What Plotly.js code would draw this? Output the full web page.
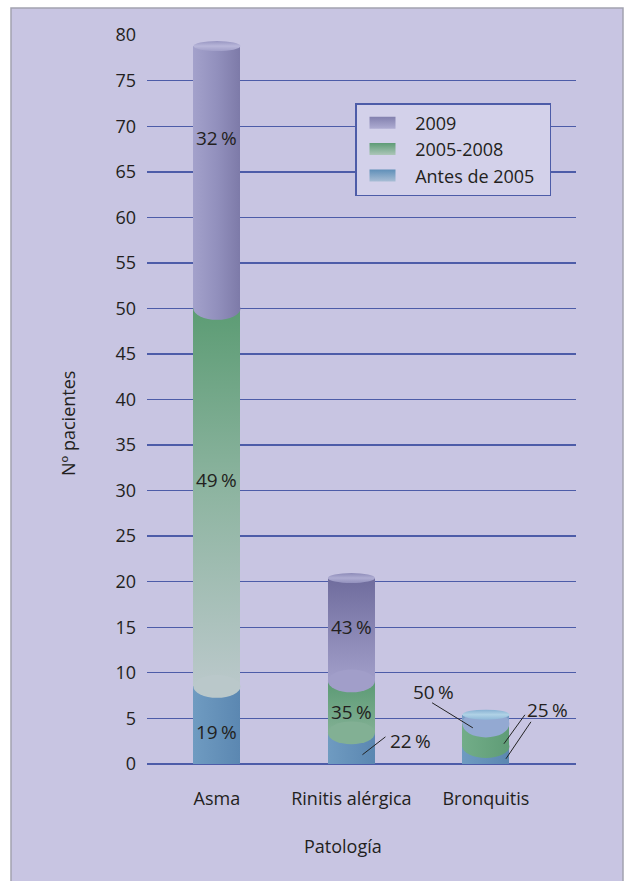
<!DOCTYPE html>
<html><head><meta charset="utf-8">
<script src="https://cdn.plot.ly/plotly-3.0.1.min.js"></script>
<style>html,body{margin:0;padding:0;background:#fff}#chart{width:625px;height:881px}</style>
</head><body><div id="chart"></div>
<script>
// ---- data ----
const categories = ['Asma', 'Rinitis alérgica', 'Bronquitis'];
const seriesNames = ['Antes de 2005', '2005-2008', '2009'];
const antes2005 = [8.5, 3.4, 1.9];
const p20052008 = [41.5, 5.7, 2.5];
const p2009 = [28.8, 11.3, 1.0];
const pctAntes = ['19\u2009%', '22\u2009%', '25\u2009%'];
const pctMid = ['49\u2009%', '35\u2009%', '25\u2009%'];
const pct2009 = ['32\u2009%', '43\u2009%', '50\u2009%'];
const yTickVals = [0, 5, 10, 15, 20, 25, 30, 35, 40, 45, 50, 55, 60, 65, 70, 75, 80];
const xTitle = 'Patología';
const yTitle = 'Nº pacientes';

// ---- style ----
const BG = '#c8c5e2', GRID = '#4d5ca8', TXT = '#231f20';
const FONT = 'Open Sans, Noto Sans, sans-serif';
const FS = 18;
const BARW = 0.35;
const series = [antes2005, p20052008, p2009];
const baseColors = ['#6590b8', '#6aa882', '#8d8bb7'];
const segStyles = [
  [{d:'h', s:['#6f9bc1','#5b87b1']}, {d:'h', s:['#6f9bc1','#5b87b1']}, {d:'h', s:['#6f9bc1','#5b87b1']}],
  [{d:'v', s:['#5c9c74','#8fb5a2','#bac8ca']}, {d:'v', s:['#5b9a74','#82b094']}, {d:'h', s:['#72ad88','#5f9c76']}],
  [{d:'h', s:['#a3a1cb','#9290bd','#7d7aa8']}, {d:'v', s:['#6f6c9d','#a19ec9']}, {d:'v', s:['#6a96c0','#93a9d2']}]
];
const capStyles = [{d:'v', s:['#9896c2','#b9b7da','#a09ec8']}, {d:'v', s:['#8d8bb8','#aeacd2','#9391bd']}, {d:'v', s:['#86b0d2','#b0d2e6','#8fb8d8']}];
const legendStyles = {'2009':{d:'v', s:['#8280ae','#aeacd2']}, '2005-2008':{d:'v', s:['#5e9c76','#adc6b9']}, 'Antes de 2005':{d:'v', s:['#5f8fb8','#a8bdd5']}};
const PADL = '\u00a0\u00a0\u00a0\u00a0', PADR = '\u00a0\u00a0';

const traces = series.map((vals, k) => ({
  type: 'bar', x: categories, y: vals, name: PADL + seriesNames[k] + PADR, width: BARW,
  marker: {color: baseColors[k], line: {width: 0}}, hoverinfo: 'none'
}));

// ---- shapes: panel, cylinder ellipses, leader lines ----
const shapes = [];
const shapeFills = [];
shapes.push({type:'rect', xref:'paper', yref:'paper', x0:(11-147)/429, x1:(623-147)/429, y0:(764-900)/729, y1:(764-8)/729,
  fillcolor: BG, line:{color:'#a2a2b0', width:1.5}, layer:'below'});
shapeFills.push(null);
categories.forEach((c, i) => {
  let cum = 0;
  for (let k = 0; k < series.length; k++) {
    cum += series[k][i];
    if (k < series.length - 1) {
      const st = segStyles[k + 1][i];
      const hh = (i === 2 && k === 1) ? 1.5 : 1.25;
      shapes.push({type:'circle', xref:'x', yref:'y', x0:i - BARW/2, x1:i + BARW/2, y0:cum - hh, y1:cum + hh,
        fillcolor: st.s[st.s.length - 1], line:{width:0}, layer:'above'});
      shapeFills.push(st.d === 'h' ? st : {d:'h', s:[st.s[st.s.length-1], st.s[st.s.length-1]]});
    } else {
      shapes.push({type:'circle', xref:'x', yref:'y', x0:i - BARW/2, x1:i + BARW/2, y0:cum - 0.55, y1:cum + 0.55,
        fillcolor: capStyles[i].s[1], line:{width:0}, layer:'above'});
      shapeFills.push(capStyles[i]);
    }
  }
});
const leaders = [
  [1, 0.082, 1.0, 0.253, 2.96],
  [2, -0.097, 3.95, -0.40, 6.7],
  [2, 0.134, 2.2, 0.29, 5.38],
  [2, 0.149, 0.55, 0.335, 4.61]
];
leaders.forEach(l => {
  shapes.push({type:'line', xref:'x', yref:'y', x0:l[0] + l[1], y0:l[2], x1:l[0] + l[3], y1:l[4],
    line:{color:'#222', width:1}, layer:'above'});
  shapeFills.push(null);
});

// ---- annotations ----
const ann = [];
function lab(x, y, t) {
  ann.push({x, y, xref:'x', yref:'y', text:t, showarrow:false, xanchor:'center', yanchor:'middle',
    font:{family:FONT, size:19, color:TXT}});
}
lab(0, 68.7, pct2009[0]);
lab(0, 31.2, pctMid[0]);
lab(0, 3.5, pctAntes[0]);
lab(1, 15.0, pct2009[1]);
lab(1, 5.7, pctMid[1]);
lab(1 + 0.439, 2.52, pctAntes[1]);
lab(2 - 0.387, 7.9, pct2009[2]);
lab(2 + 0.461, 5.93, pctMid[2]);
// axis titles
ann.push({xref:'paper', yref:'paper', x:(343-147)/429, y:(764-846)/729, text:xTitle, showarrow:false,
  xanchor:'center', yanchor:'middle', font:{family:FONT, size:FS, color:TXT}});
ann.push({xref:'paper', yref:'paper', x:(68-147)/429, y:(764-424)/729, text:yTitle, showarrow:false, textangle:-90,
  xanchor:'center', yanchor:'middle', font:{family:FONT, size:FS, color:TXT}});

const layout = {
  width: 625, height: 881,
  margin: {l:147, r:49, t:35, b:117},
  paper_bgcolor: '#ffffff', plot_bgcolor: 'rgba(0,0,0,0)',
  barmode: 'stack', bargap: 0,
  font: {family: FONT, size: FS, color: TXT},
  showlegend: true,
  legend: {x:(355-147)/429, y:(764-103)/729, xanchor:'left', yanchor:'top', traceorder:'reversed',
    bgcolor:'#d3d1ea', bordercolor:GRID, borderwidth:1.5, font:{family:FONT, size:FS, color:TXT}},
  xaxis: {type:'category', range:[-0.52, 2.67], showgrid:false, zeroline:false, showline:false, ticks:'',
    ticklabelstandoff: 22, tickfont:{family:FONT, size:FS, color:TXT}, fixedrange:true},
  yaxis: {range:[-0.02, 80.02], tickvals:yTickVals, ticktext:yTickVals.map(String), showgrid:true, gridcolor:GRID, gridwidth:1.4,
    zeroline:true, zerolinecolor:GRID, zerolinewidth:1.4, showline:false, ticks:'', ticklabelstandoff:10,
    tickfont:{family:FONT, size:FS, color:TXT}, fixedrange:true},
  shapes: shapes,
  annotations: ann
};

const gd = document.getElementById('chart');
Plotly.newPlot(gd, traces, layout, {staticPlot:true, displayModeBar:false}).then(() => {
  const NS = 'http://www.w3.org/2000/svg';
  const svg = gd.querySelector('svg.main-svg');
  let defs = svg.querySelector('defs');
  if (!defs) { defs = document.createElementNS(NS, 'defs'); svg.insertBefore(defs, svg.firstChild); }
  let gid = 0;
  function grad(spec) {
    const id = 'cylgrad' + (gid++);
    const g = document.createElementNS(NS, 'linearGradient');
    g.setAttribute('id', id);
    g.setAttribute('x1', '0'); g.setAttribute('y1', '0');
    g.setAttribute('x2', spec.d === 'h' ? '1' : '0'); g.setAttribute('y2', spec.d === 'h' ? '0' : '1');
    spec.s.forEach((c, j) => {
      const st = document.createElementNS(NS, 'stop');
      st.setAttribute('offset', spec.s.length > 1 ? j / (spec.s.length - 1) : 0);
      st.setAttribute('stop-color', c);
      g.appendChild(st);
    });
    defs.appendChild(g);
    return 'url(#' + id + ')';
  }
  gd.querySelectorAll('.barlayer .trace').forEach((tr, k) => {
    tr.querySelectorAll('.point path').forEach((p, i) => {
      if (segStyles[k] && segStyles[k][i]) p.style.fill = grad(segStyles[k][i]);
    });
  });
  gd.querySelectorAll('.shapelayer path[data-index]').forEach(p => {
    const idx = +p.getAttribute('data-index');
    if (shapeFills[idx]) p.style.fill = grad(shapeFills[idx]);
  });
  gd.querySelectorAll('.legend .traces').forEach(t => {
    const txt = t.querySelector('.legendtext');
    const name = txt ? txt.textContent.replace(/\u00a0/g, '').trim() : '';
    const p = t.querySelector('.legendpoints path');
    if (p && legendStyles[name]) {
      p.setAttribute('d', 'M19,6H-7V-6H19Z');
      p.style.fill = grad(legendStyles[name]);
      p.style.stroke = 'none';
    }
  });
});
</script></body></html>
